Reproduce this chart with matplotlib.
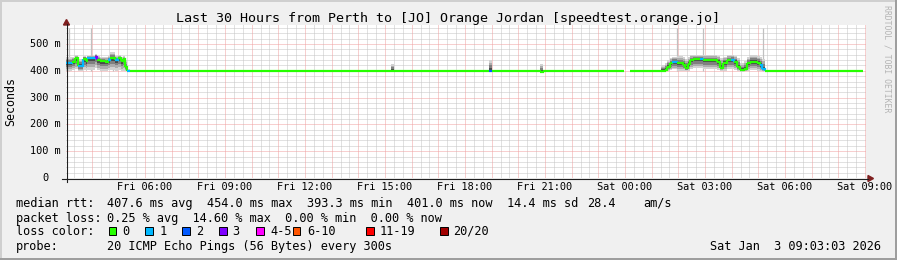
import matplotlib
matplotlib.use("Agg")
import matplotlib.pyplot as plt
import numpy as np
from matplotlib.patches import Rectangle, Polygon
from matplotlib.lines import Line2D

plt.rcParams['font.family'] = ['DejaVu Sans Mono']

# ---------------- data (time = hours since Fri 00:00, values in ms) ----------------
t_start, t_end_axis = 3.05, 33.05
data_end = 32.92

med_t = [3.05, 3.26, 3.37, 3.49, 3.67, 3.78, 3.82, 4.12, 4.20, 4.31, 4.50, 4.61, 4.69,
         4.87, 4.99, 5.10, 5.17, 5.25, 5.32, 5.44,
         15.24, 15.32, 17.17, 17.25, 18.90, 19.02, 20.83, 20.93, 21.00,
         23.98, 24.17,
         25.35, 25.50, 25.57, 25.69, 25.76, 25.95, 26.17, 26.25, 26.36, 26.44, 26.55,
         26.81, 26.92, 27.45, 27.56, 27.68, 27.83, 27.98, 28.09, 28.20, 28.31, 28.46,
         28.58, 28.69, 28.95, 29.06, 29.14, 29.25]
med_v = [428, 434, 447, 418, 445, 436, 447, 453, 440, 437, 434, 440, 447,
         440, 447, 437, 443, 413, 401, 401,
         401, 401, 401, 401, 401, 401, 394, 398, 401,
         np.nan, 401,
         401, 403, 415, 428, 434, 428, 422, 411, 425, 440, 444,
         444, 440, 434, 412, 430, 440, 440, 434, 415, 402, 405,
         428, 434, 430, 420, 406, 401]
loss = [1, 0, 0, 1, 0, 0, 1, 3, 0, 0, 0, 1, 0,
        1, 0, 0, 0, 0, 1, 0,
        0, 0, 0, 0, 2, 0, 0, 0, 0,
        0, 0,
        0, 0, 0, 0, 1, 0, 0, 0, 0, 0, 0,
        1, 0, 0, 0, 0, 0, 1, 0, 0, 0, 0,
        0, 0, 0, 1, 1, 0]
smoke_lo = [400, 402, 405, 398, 402, 400, 404, 410, 402, 398, 400, 402, 404,
            400, 402, 398, 400, 398, 398, 401,
            401, 401, 395, 401, 398, 401, 392, 396, 401,
            np.nan, 401,
            400, 398, 400, 402, 405, 400, 400, 398, 400, 405, 410,
            410, 405, 402, 398, 400, 405, 405, 402, 398, 396, 398,
            400, 402, 400, 398, 398, 401]
smoke_hi = [450, 452, 458, 445, 456, 452, 456, 462, 455, 452, 450, 455, 470,
            455, 458, 452, 455, 440, 405, 401,
            425, 401, 401, 401, 440, 401, 425, 401, 401,
            np.nan, 401,
            420, 430, 440, 448, 452, 455, 450, 445, 452, 458, 460,
            460, 458, 455, 448, 452, 458, 460, 455, 448, 430, 435,
            450, 458, 455, 450, 445, 401]

spike_t = [3.15, 3.98, 4.80, 25.95, 26.92, 29.17]
spike_top = [560, 560, 466, 560, 560, 560]

yticks = [0, 100, 200, 300, 400, 500]
ytick_labels = ["0", "100 m", "200 m", "300 m", "400 m", "500 m"]
xticks = [6, 9, 12, 15, 18, 21, 24, 27, 30, 33]
xtick_labels = ["Fri 06:00", "Fri 09:00", "Fri 12:00", "Fri 15:00", "Fri 18:00",
                "Fri 21:00", "Sat 00:00", "Sat 03:00", "Sat 06:00", "Sat 09:00"]

loss_labels = ["0", "1", "2", "3", "4-5", "6-10", "11-19", "20/20"]
loss_colors = ["#26ff00", "#00b8ff", "#0059ff", "#7e00ff", "#ff00ff", "#ff5500", "#ff0000", "#a10000"]

title = "Last 30 Hours from Perth to [JO] Orange Jordan [speedtest.orange.jo]"
rtt_stats = ["407.6 ms avg", "454.0 ms max", "393.3 ms min", "401.0 ms now", "14.4 ms sd", "28.4", "am/s"]
loss_stats = "0.25 % avg  14.60 % max  0.00 % min  0.00 % now"
probe_text = "20 ICMP Echo Pings (56 Bytes) every 300s"
stamp = "Sat Jan  3 09:03:03 2026"

# ---------------- figure ----------------
W, H = 897, 260
fig = plt.figure(figsize=(W / 100, H / 100), dpi=100, facecolor="#f0f0f0")

def fx(px):
    return px / W

def fy(py):
    return 1 - py / H

AX_L, AX_R, AX_T, AX_B = 66.3, 866.3, 25, 178
ax = fig.add_axes([fx(AX_L), fy(AX_B), (AX_R - AX_L) / W, (AX_B - AX_T) / H])
ax.set_facecolor("white")
ax.set_xlim(t_start, t_end_axis)
ax.set_ylim(0, 571)
ax.set_xticks([])
ax.set_yticks([])
for s in ax.spines.values():
    s.set_visible(False)

# grid
minor_x = np.arange(3 + 1 / 3, 33.1, 1 / 3)
major_x = np.arange(4, 33.1, 1)
minor_x = [v for v in minor_x if abs(v - round(v)) > 0.01]
ax.vlines(minor_x, 0, 571, colors="#c4c4c4", lw=0.72, linestyles=(0, (1, 1)), zorder=1)
ax.vlines(major_x, 0, 571, colors="#f0a0a0", lw=0.72, linestyles=(0, (1, 1)), zorder=1.1)
minor_y = [v for v in range(20, 571, 20) if v % 100 != 0]
ax.hlines(minor_y, t_start, t_end_axis, colors="#c4c4c4", lw=0.72, linestyles=(0, (1, 1)), zorder=1)
ax.hlines([100, 200, 300, 400, 500], t_start, t_end_axis, colors="#f0a0a0", lw=0.72,
          linestyles=(0, (1, 1)), zorder=1.1)

# spikes (outlier pings)
ax.vlines(spike_t, 401, spike_top, colors="#c0c0c0", lw=0.9, zorder=2)

# smoke
te = np.array(med_t + [data_end])
mv = np.array(med_v, dtype=float)
lo = np.array(smoke_lo, dtype=float)
hi = np.array(smoke_hi, dtype=float)
ext = lambda a: np.append(a, a[-1])
layers = [(1.0, "#d2d2d2"), (0.75, "#acacac"), (0.5, "#808080"), (0.25, "#4a4a4a")]
for frac, col in layers:
    l = mv - (mv - lo) * frac
    h = mv + (hi - mv) * frac
    ax.fill_between(te, ext(l), ext(h), step="post", color=col, lw=0, zorder=3)

# median line
for i in range(len(med_v)):
    v = med_v[i]
    if np.isnan(v):
        continue
    xs = [te[i], te[i + 1]]
    ys = [v, v]
    if i + 1 < len(med_v) and not np.isnan(med_v[i + 1]):
        xs.append(te[i + 1])
        ys.append(med_v[i + 1])
    ax.plot(xs, ys, color=loss_colors[loss[i]], lw=1.6, solid_joinstyle="miter",
            solid_capstyle="butt", zorder=4)

# axes lines and arrows (figure pixel coords)
def fline(x0, y0, x1, y1, color, lw=0.8):
    fig.add_artist(Line2D([fx(x0), fx(x1)], [fy(y0), fy(y1)], color=color, lw=lw,
                          transform=fig.transFigure))

fline(62, 178.5, 868, 178.5, "#1f1f1f")
fline(66.5, 182, 66.5, 24, "#1f1f1f")
fig.add_artist(Polygon([[fx(868), fy(175.5)], [fx(873.5), fy(178.5)], [fx(868), fy(181.5)]],
                       closed=True, color="#7f1f1f", transform=fig.transFigure))
fig.add_artist(Polygon([[fx(63.5), fy(25)], [fx(66.5), fy(19.5)], [fx(69.5), fy(25)]],
                       closed=True, color="#7f1f1f", transform=fig.transFigure))

# tick labels
TICK_FS = 7.4
ypx_per = 153 / 571
for v, lab in zip(yticks, ytick_labels):
    yp = 178 - v * ypx_per
    xr = 60.5 if v != 0 else 48
    fig.text(fx(xr), fy(yp), lab, ha="right", va="center", fontsize=TICK_FS, color="black")
for t, lab in zip(xticks, xtick_labels):
    xp = 145 + (t - 6) * 26.667
    fig.text(fx(xp), fy(187), lab, ha="center", va="center", fontsize=TICK_FS, color="black")

# title, y label, watermark
fig.text(fx(447.5), fy(18.5), title, ha="center", va="center", fontsize=9.6, color="black")
fig.text(fx(10.5), fy(102), "Seconds", rotation=90, ha="center", va="center", fontsize=8.4)
fig.text(fx(887), fy(59), "RRDTOOL / TOBI OETIKER", rotation=270, ha="center", va="center",
         fontsize=5.9, color="#b4b4b4")

# legend
LFS = 8.55
R1, R2, R3, R4 = 203.5, 218.3, 231.3, 246.3
fig.text(fx(16), fy(R1), "median rtt:", ha="left", va="center", fontsize=LFS)
for xs_, s in zip([107, 207, 307, 407, 507, 587, 643], rtt_stats):
    fig.text(fx(xs_), fy(R1), s, ha="left", va="center", fontsize=LFS)
fig.text(fx(16), fy(R2), "packet loss:", ha="left", va="center", fontsize=LFS)
fig.text(fx(107), fy(R2), loss_stats, ha="left", va="center", fontsize=LFS)
fig.text(fx(16), fy(R3), "loss color:", ha="left", va="center", fontsize=LFS)
box_x = [108.5, 145.3, 182.3, 219.2, 256, 292.8, 366, 440]
lab_x = [122.5, 159.5, 196.5, 232.5, 270.5, 307.5, 379.5, 453]
for bx, lx, c, lab in zip(box_x, lab_x, loss_colors, loss_labels):
    fig.add_artist(Rectangle((fx(bx), fy(234.8)), 7.6 / W, 7.8 / H, facecolor=c, edgecolor="black",
                             lw=0.7, transform=fig.transFigure))
    fig.text(fx(lx), fy(R3), lab, ha="left", va="center", fontsize=LFS)
fig.text(fx(16), fy(R4), "probe:", ha="left", va="center", fontsize=LFS)
fig.text(fx(107), fy(R4), probe_text, ha="left", va="center", fontsize=LFS)
fig.text(fx(881), fy(R4), stamp, ha="right", va="center", fontsize=LFS)

# 3D frame
fig.add_artist(Rectangle((0, fy(2)), 1, 2 / H, facecolor="#cfcfcf", lw=0, transform=fig.transFigure))
fig.add_artist(Rectangle((0, 0), 2 / W, 1, facecolor="#cfcfcf", lw=0, transform=fig.transFigure))
fig.add_artist(Rectangle((0, 0), 1, 2 / H, facecolor="#9e9e9e", lw=0, transform=fig.transFigure))
fig.add_artist(Rectangle((1 - 2 / W, 0), 2 / W, 1, facecolor="#9e9e9e", lw=0, transform=fig.transFigure))

fig.savefig("out.png", dpi=100, facecolor=fig.get_facecolor())
